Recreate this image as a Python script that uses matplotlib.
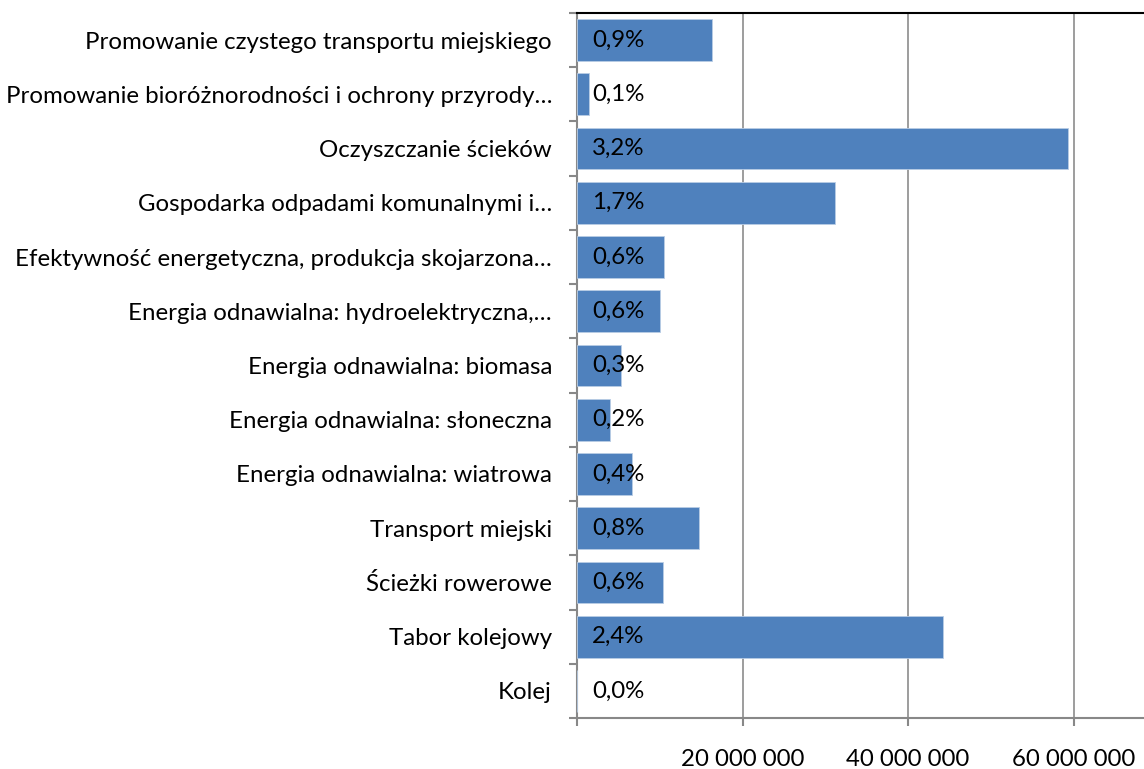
import matplotlib
matplotlib.use("Agg")
import matplotlib.pyplot as plt
from matplotlib.ticker import FixedLocator, FuncFormatter

categories = [
    "Promowanie czystego transportu miejskiego",
    "Promowanie bioróżnorodności i ochrony przyrody…",
    "Oczyszczanie ścieków",
    "Gospodarka odpadami komunalnymi i…",
    "Efektywność energetyczna, produkcja skojarzona…",
    "Energia odnawialna: hydroelektryczna,…",
    "Energia odnawialna: biomasa",
    "Energia odnawialna: słoneczna",
    "Energia odnawialna: wiatrowa",
    "Transport miejski",
    "Ścieżki rowerowe",
    "Tabor kolejowy",
    "Kolej",
]
values = [16.3e6, 1.45e6, 59.3e6, 31.2e6, 10.5e6, 10.0e6, 5.3e6, 4.0e6, 6.6e6,
          14.7e6, 10.4e6, 44.2e6, 0]
shares = ["0,9%", "0,1%", "3,2%", "1,7%", "0,6%", "0,6%", "0,3%", "0,2%", "0,4%",
          "0,8%", "0,6%", "2,4%", "0,0%"]
x_ticks = [0, 20e6, 40e6, 60e6]

plt.rcParams['font.family'] = ['Lato', 'DejaVu Sans']
W, H = 1144, 769
fig = plt.figure(figsize=(W / 100, H / 100), dpi=100)
ax = fig.add_axes([577 / W, 1 - 718 / H, 1 - 577 / W, (718 - 13) / H])

n = len(categories)
ypos = list(range(n))
ax.barh(ypos, values, height=0.77, color="#4F81BD", edgecolor="#B9CDE5", linewidth=0.6, zorder=3)
ax.set_ylim(n - 0.5, -0.5)
ax.set_xlim(0, 68.5e6)

fs = 17.3
for y, s in zip(ypos, shares):
    ax.annotate(s, xy=(0, y), xytext=(15, 0), textcoords="offset pixels",
                va="center", ha="left", fontsize=fs, color="black", zorder=4)

ax.set_yticks(ypos)
ax.set_yticklabels(categories, fontsize=fs)
ax.yaxis.set_minor_locator(FixedLocator([i - 0.5 for i in range(n + 1)]))
ax.tick_params(axis="y", which="major", length=0, pad=18)
ax.tick_params(axis="y", which="minor", length=6, width=1.5, color="#888888", direction="out")

ax.xaxis.set_major_locator(FixedLocator(x_ticks))
ax.xaxis.set_major_formatter(FuncFormatter(lambda v, p: "" if v == 0 else f"{int(v):,}".replace(",", " ")))
ax.tick_params(axis="x", length=6, width=1.5, color="#888888", direction="out", pad=16, labelsize=fs)
ax.grid(axis="x", color="#8C8C8C", linewidth=1.2, zorder=0)

ax.spines["left"].set_color("#888888")
ax.spines["left"].set_linewidth(1.5)
ax.spines["bottom"].set_color("#888888")
ax.spines["bottom"].set_linewidth(1.5)
ax.spines["top"].set_color("black")
ax.spines["top"].set_linewidth(1.5)
ax.spines["right"].set_visible(False)

fig.savefig("out.png", dpi=100)
